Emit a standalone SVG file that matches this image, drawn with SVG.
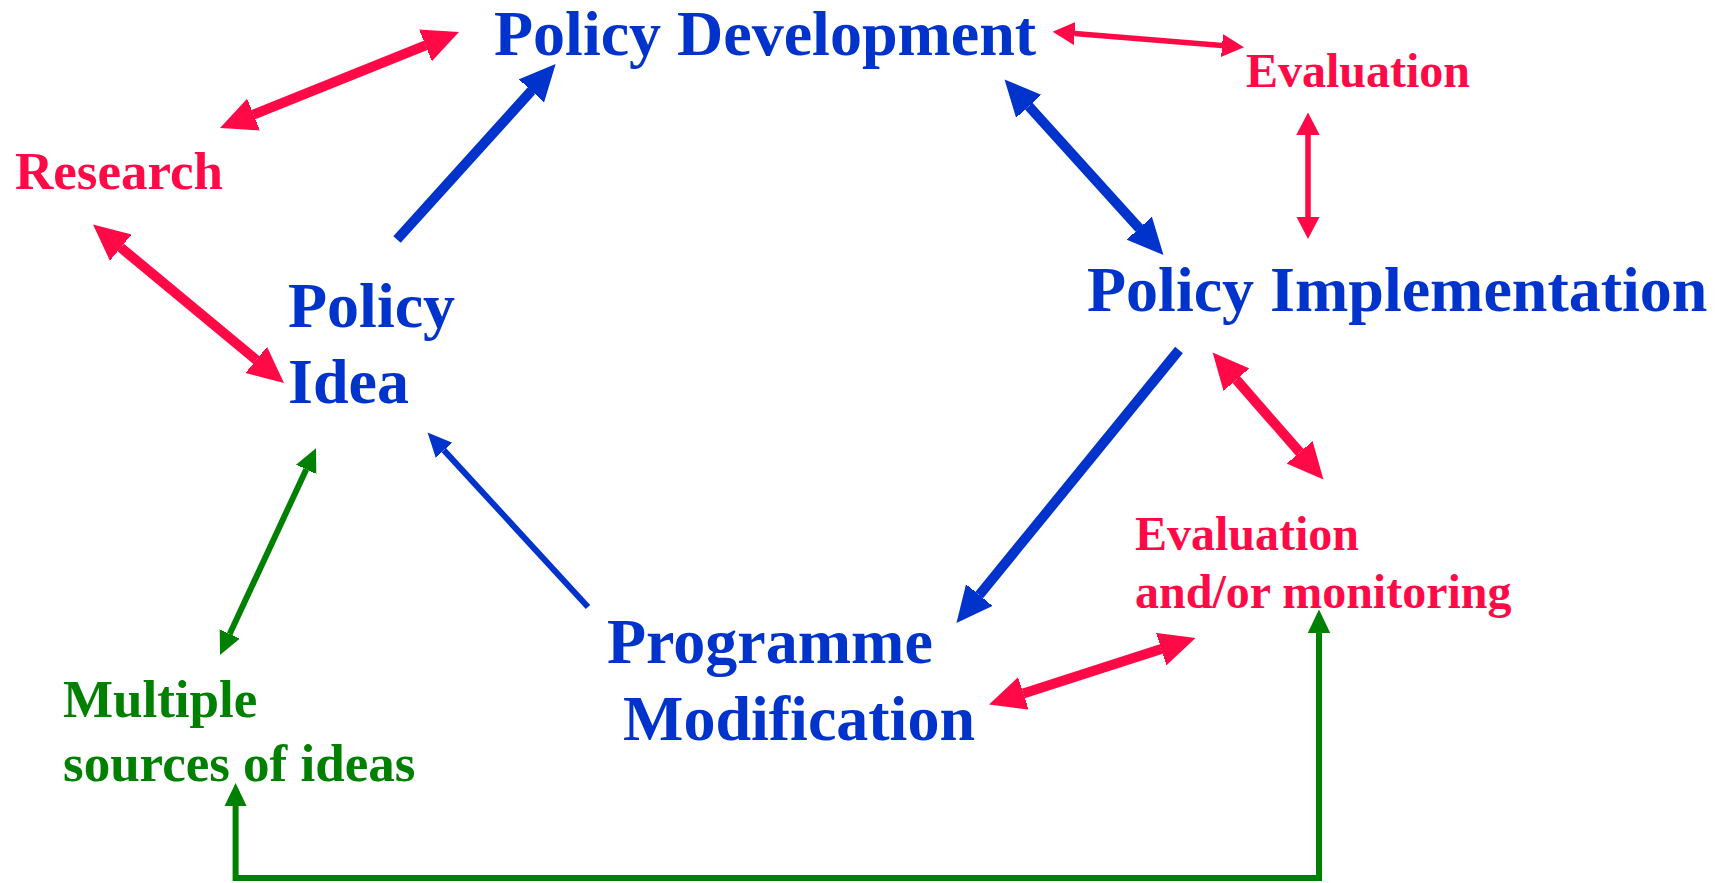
<svg xmlns="http://www.w3.org/2000/svg" width="1726" height="883" viewBox="0 0 1726 883">
  <style>
    .t { font-family: "Liberation Serif", "Times New Roman", serif; font-weight: bold; }
    .blue { fill: #0033CC; font-size: 64px; }
    .red { fill: #FF0A47; }
    .green { fill: #008000; }
    .r53 { font-size: 53px; }
    .r48 { font-size: 48px; }
    .c { fill: none; stroke-linecap: butt; stroke-linejoin: miter; }
    .cb { stroke: #0033CC; }
    .cr { stroke: #FF0A47; }
    .cg { stroke: #008000; }
    .w10 { stroke-width: 10; }
    .w6 { stroke-width: 6; }
    .w5 { stroke-width: 5.5; }
  </style>
  <defs>
    <marker id="bigRed" markerUnits="userSpaceOnUse" markerWidth="40" markerHeight="40" viewBox="0 -20 40 40" refX="0" refY="0" orient="auto-start-reverse">
      <path d="M-1,-17.5 L36,0 L-1,17.5 z" fill="#FF0A47"/>
    </marker>
    <marker id="bigBlue" markerUnits="userSpaceOnUse" markerWidth="40" markerHeight="40" viewBox="0 -20 40 40" refX="0" refY="0" orient="auto-start-reverse">
      <path d="M-1,-17.5 L36,0 L-1,17.5 z" fill="#0033CC"/>
    </marker>
    <marker id="smallRed" markerUnits="userSpaceOnUse" markerWidth="30" markerHeight="30" viewBox="0 -15 30 30" refX="0" refY="0" orient="auto-start-reverse">
      <path d="M-1,-12 L22,0 L-1,12 z" fill="#FF0A47"/>
    </marker>
    <marker id="smallBlue" markerUnits="userSpaceOnUse" markerWidth="30" markerHeight="30" viewBox="0 -15 30 30" refX="0" refY="0" orient="auto-start-reverse">
      <path d="M-1,-11.5 L24,0 L-1,11.5 z" fill="#0033CC"/>
    </marker>
    <marker id="greenHead" markerUnits="userSpaceOnUse" markerWidth="30" markerHeight="30" viewBox="0 -15 30 30" refX="0" refY="0" orient="auto-start-reverse">
      <path d="M-1,-11.5 L23,0 L-1,11.5 z" fill="#008000"/>
    </marker>
  </defs>
  <rect x="0" y="0" width="1726" height="883" fill="#FFFFFF"/>

  <g id="connectors">
    <line id="research-development" class="c cr w10" x1="253.4" y1="114.6" x2="425.6" y2="45.4" marker-start="url(#bigRed)" marker-end="url(#bigRed)"/>
    <line id="research-idea" class="c cr w10" x1="120.7" y1="247.5" x2="256.3" y2="360.0" marker-start="url(#bigRed)" marker-end="url(#bigRed)"/>
    <line id="idea-development" class="c cb w10" x1="397" y1="239.5" x2="531.5" y2="90.7" marker-end="url(#bigBlue)"/>
    <line id="development-evaluation" class="c cr w5" x1="1074.6" y1="33.5" x2="1222.1" y2="45.5" marker-start="url(#smallRed)" marker-end="url(#smallRed)"/>
    <line id="evaluation-implementation" class="c cr w5" x1="1308" y1="134.5" x2="1308" y2="217" marker-start="url(#smallRed)" marker-end="url(#smallRed)"/>
    <line id="development-implementation" class="c cb w10" x1="1028.7" y1="106.2" x2="1139.3" y2="228.3" marker-start="url(#bigBlue)" marker-end="url(#bigBlue)"/>
    <line id="implementation-modification" class="c cb w10" x1="1179" y1="350" x2="979.2" y2="595.1" marker-end="url(#bigBlue)"/>
    <line id="implementation-monitoring" class="c cr w10" x1="1236.3" y1="379.6" x2="1299.8" y2="452.4" marker-start="url(#bigRed)" marker-end="url(#bigRed)"/>
    <line id="modification-monitoring" class="c cr w10" x1="1023.3" y1="693.5" x2="1161.3" y2="649.0" marker-start="url(#bigRed)" marker-end="url(#bigRed)"/>
    <line id="modification-idea" class="c cb w6" x1="588" y1="607" x2="443.8" y2="450.1" marker-end="url(#smallBlue)"/>
    <line id="idea-sources" class="c cg w6" x1="306.3" y1="469.2" x2="229.7" y2="634.1" marker-start="url(#greenHead)" marker-end="url(#greenHead)"/>
    <polyline id="sources-monitoring" class="c cg w6" points="235.6,806 235.6,878 1319,878 1319,632.5" marker-start="url(#greenHead)" marker-end="url(#greenHead)"/>
  </g>

  <g id="node-policy-development">
    <text class="t blue" x="494" y="55">Policy Development</text>
  </g>
  <g id="node-research">
    <text class="t red r53" x="15" y="189">Research</text>
  </g>
  <g id="node-evaluation">
    <text class="t red r48" x="1246" y="87">Evaluation</text>
  </g>
  <g id="node-policy-idea">
    <text class="t blue" x="288" y="327">Policy</text>
    <text class="t blue" x="288" y="403">Idea</text>
  </g>
  <g id="node-policy-implementation">
    <text class="t blue" x="1087" y="311">Policy Implementation</text>
  </g>
  <g id="node-evaluation-monitoring">
    <text class="t red r48" x="1135" y="550">Evaluation</text>
    <text class="t red r48" x="1135" y="608">and/or monitoring</text>
  </g>
  <g id="node-programme-modification">
    <text class="t blue" x="607" y="663">Programme</text>
    <text class="t blue" x="623" y="740">Modification</text>
  </g>
  <g id="node-multiple-sources">
    <text class="t green r53" x="63" y="717">Multiple</text>
    <text class="t green r53" x="63" y="781">sources of ideas</text>
  </g>
</svg>
